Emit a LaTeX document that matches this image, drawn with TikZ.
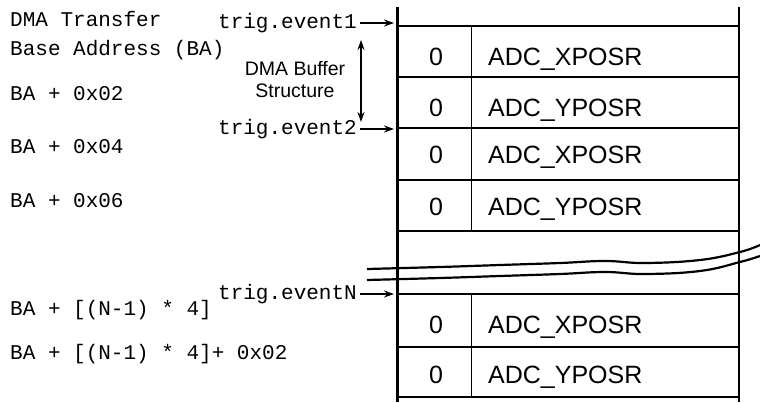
\documentclass[tikz,border=0pt]{standalone}
\usepackage{fontspec}
\setmainfont{Liberation Sans}
\newfontfamily\monofont{Liberation Mono}
\usetikzlibrary{arrows.meta}

\begin{document}
\begin{tikzpicture}[x=1pt, y=-1pt,
    mono/.style = {font=\monofont\fontsize{21}{24}\selectfont, inner sep=0pt},
    addr/.style = {mono, anchor=base west},
    trig/.style = {mono, anchor=east, inner xsep=3pt},
    cell/.style = {font=\fontsize{25}{28}\selectfont, inner sep=0pt, anchor=base},
    reg/.style = {cell, anchor=base west},
    wall/.style = {line width=2.2pt},
    row/.style = {line width=1.5pt},
    sep/.style = {line width=1pt},
    wave/.style = {line width=2.2pt},
    ptr/.style = {-{Stealth[length=10pt, width=7pt]}, line width=1.3pt}]

    \useasboundingbox (0,0) rectangle (760,402);

    % addresses
    \node[addr] (a0) at (10,26) {DMA Transfer};
    \node[addr] (a1) at (10,55) {Base Address (BA)};
    \node[addr] (a2) at (10,100) {BA + 0x02};
    \node[addr] (a3) at (10,153) {BA + 0x04};
    \node[addr] (a4) at (10,207) {BA + 0x06};
    \node[addr] (a5) at (10,315) {BA + [(N-1) * 4]};
    \node[addr] (a6) at (10,359) {BA + [(N-1) * 4]+ 0x02};

    % buffer walls and rows
    \draw[wall] (397.5,7) -- (397.5,402);
    \draw[wall] (739,7) -- (739,402);
    \draw[row] (397.5,26) -- (739,26);
    \draw[row] (397.5,77) -- (739,77);
    \draw[row] (397.5,128) -- (739,128);
    \draw[row] (397.5,180) -- (739,180);
    \draw[row] (397.5,231) -- (739,231);
    \draw[row] (397.5,294) -- (739,294);
    \draw[row] (397.5,347) -- (739,347);
    \draw[row] (397.5,397) -- (739,397);
    \draw[sep] (471,26) -- (471,231);
    \draw[sep] (471,294) -- (471,397);

    % break
    \draw[wave] plot[smooth, tension=0.7] coordinates {(367,269) (440,267) (500,265) (560,263) (605,261) (645,263) (700,260) (740,252) (760,245)};
    \draw[wave] plot[smooth, tension=0.7] coordinates {(367,280) (440,278) (500,276) (560,274) (605,272) (645,274) (700,271) (740,262) (760,256)};

    % entries
    \node[cell] (z1) at (436,65) {0};
    \node[reg] (r1) at (488,65) {ADC\_XPOSR};
    \node[cell] (z2) at (436,116.5) {0};
    \node[reg] (r2) at (488,116.5) {ADC\_YPOSR};
    \node[cell] (z3) at (436,163.5) {0};
    \node[reg] (r3) at (488,163.5) {ADC\_XPOSR};
    \node[cell] (z4) at (436,215) {0};
    \node[reg] (r4) at (488,215) {ADC\_YPOSR};
    \node[cell] (z5) at (436,333) {0};
    \node[reg] (r5) at (488,333) {ADC\_XPOSR};
    \node[cell] (z6) at (436,383) {0};
    \node[reg] (r6) at (488,383) {ADC\_YPOSR};

    % trigger events
    \node[trig] (t1) at (360,23) {trig.event1};
    \node[trig] (t2) at (360,129) {trig.event2};
    \node[trig] (tN) at (360,294) {trig.eventN};
    \coordinate (e1) at (394,23);
    \coordinate (e2) at (394,129);
    \coordinate (eN) at (394,294);
    \draw[ptr] (t1) -- (e1);
    \draw[ptr] (t2) -- (e2);
    \draw[ptr] (tN) -- (eN);

    % structure span
    \node[font=\fontsize{19.5}{22}\selectfont, align=center] (buf) at (295,80) {DMA Buffer\\Structure};
    \coordinate (s1) at (361,40);
    \coordinate (s2) at (361,122);
    \draw[{Stealth[length=10pt, width=7pt]}-{Stealth[length=10pt, width=7pt]}, line width=1.3pt] (s1) -- (s2);

\end{tikzpicture}
\end{document}
